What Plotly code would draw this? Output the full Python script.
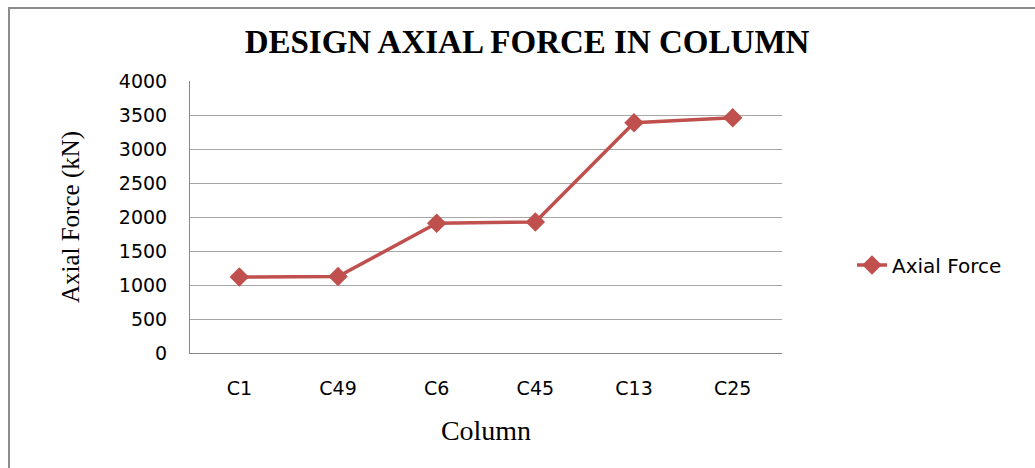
import plotly.graph_objects as go

# Design axial force per column (kN)
columns = ["C1", "C49", "C6", "C45", "C13", "C25"]
axial_force = [1116, 1124, 1908, 1927, 3385, 3458]
y_ticks = [0, 500, 1000, 1500, 2000, 2500, 3000, 3500, 4000]

W, H = 1035, 468
L, R, T, B = 190, 253, 81, 115
plot_w = W - L - R
plot_h = H - T - B

RED = "#C0504D"
GRID = "#A6A6A6"
AXIS = "#868686"
SANS = "DejaVu Sans"
SERIF = "Liberation Serif"


def px_to_paper_x(px):
    return (px - L) / plot_w


def px_to_paper_y(py):
    return (H - B - py) / plot_h


fig = go.Figure()
fig.add_trace(go.Scatter(
    x=columns,
    y=axial_force,
    mode="lines+markers",
    name="Axial Force",
    line=dict(color=RED, width=3.5),
    marker=dict(symbol="diamond", size=15, color=RED),
))

fig.update_layout(
    width=W,
    height=H,
    margin=dict(l=L, r=R, t=T, b=B, pad=0),
    paper_bgcolor="white",
    plot_bgcolor="white",
    title=dict(
        text="<b>DESIGN AXIAL FORCE IN COLUMN</b>",
        font=dict(family=SERIF, size=33, color="black"),
        x=px_to_paper_x(527),
        xref="paper",
        xanchor="center",
        y=1 - 41 / H,
        yref="container",
        yanchor="middle",
    ),
    xaxis=dict(
        type="category",
        range=[-0.5, len(columns) - 0.5],
        showgrid=False,
        showline=True,
        linecolor=AXIS,
        linewidth=1,
        ticks="",
        ticklabelstandoff=18,
        tickfont=dict(family=SANS, size=19, color="black"),
        title=dict(
            text="Column",
            font=dict(family=SERIF, size=28, color="black"),
            standoff=22,
        ),
    ),
    yaxis=dict(
        range=[0, 4000],
        tickvals=y_ticks,
        showgrid=True,
        gridcolor=GRID,
        gridwidth=1,
        zeroline=False,
        showline=True,
        linecolor=AXIS,
        linewidth=1,
        ticks="",
        ticklabelstandoff=18,
        tickfont=dict(family=SANS, size=19, color="black"),
        title=dict(
            text="Axial Force (kN)",
            font=dict(family=SERIF, size=25, color="black"),
            standoff=32,
        ),
    ),
    showlegend=True,
    legend=dict(
        x=px_to_paper_x(852),
        y=px_to_paper_y(265),
        xanchor="left",
        yanchor="middle",
        font=dict(family=SANS, size=20, color="black"),
        bgcolor="rgba(0,0,0,0)",
    ),
    shapes=[
        dict(
            type="rect",
            xref="paper",
            yref="paper",
            x0=px_to_paper_x(9),
            x1=px_to_paper_x(W + 20),
            y0=px_to_paper_y(H + 20),
            y1=px_to_paper_y(8),
            line=dict(color="#8C8C8C", width=2),
            fillcolor="rgba(0,0,0,0)",
            layer="above",
        )
    ],
)

fig.write_html("out.html")
